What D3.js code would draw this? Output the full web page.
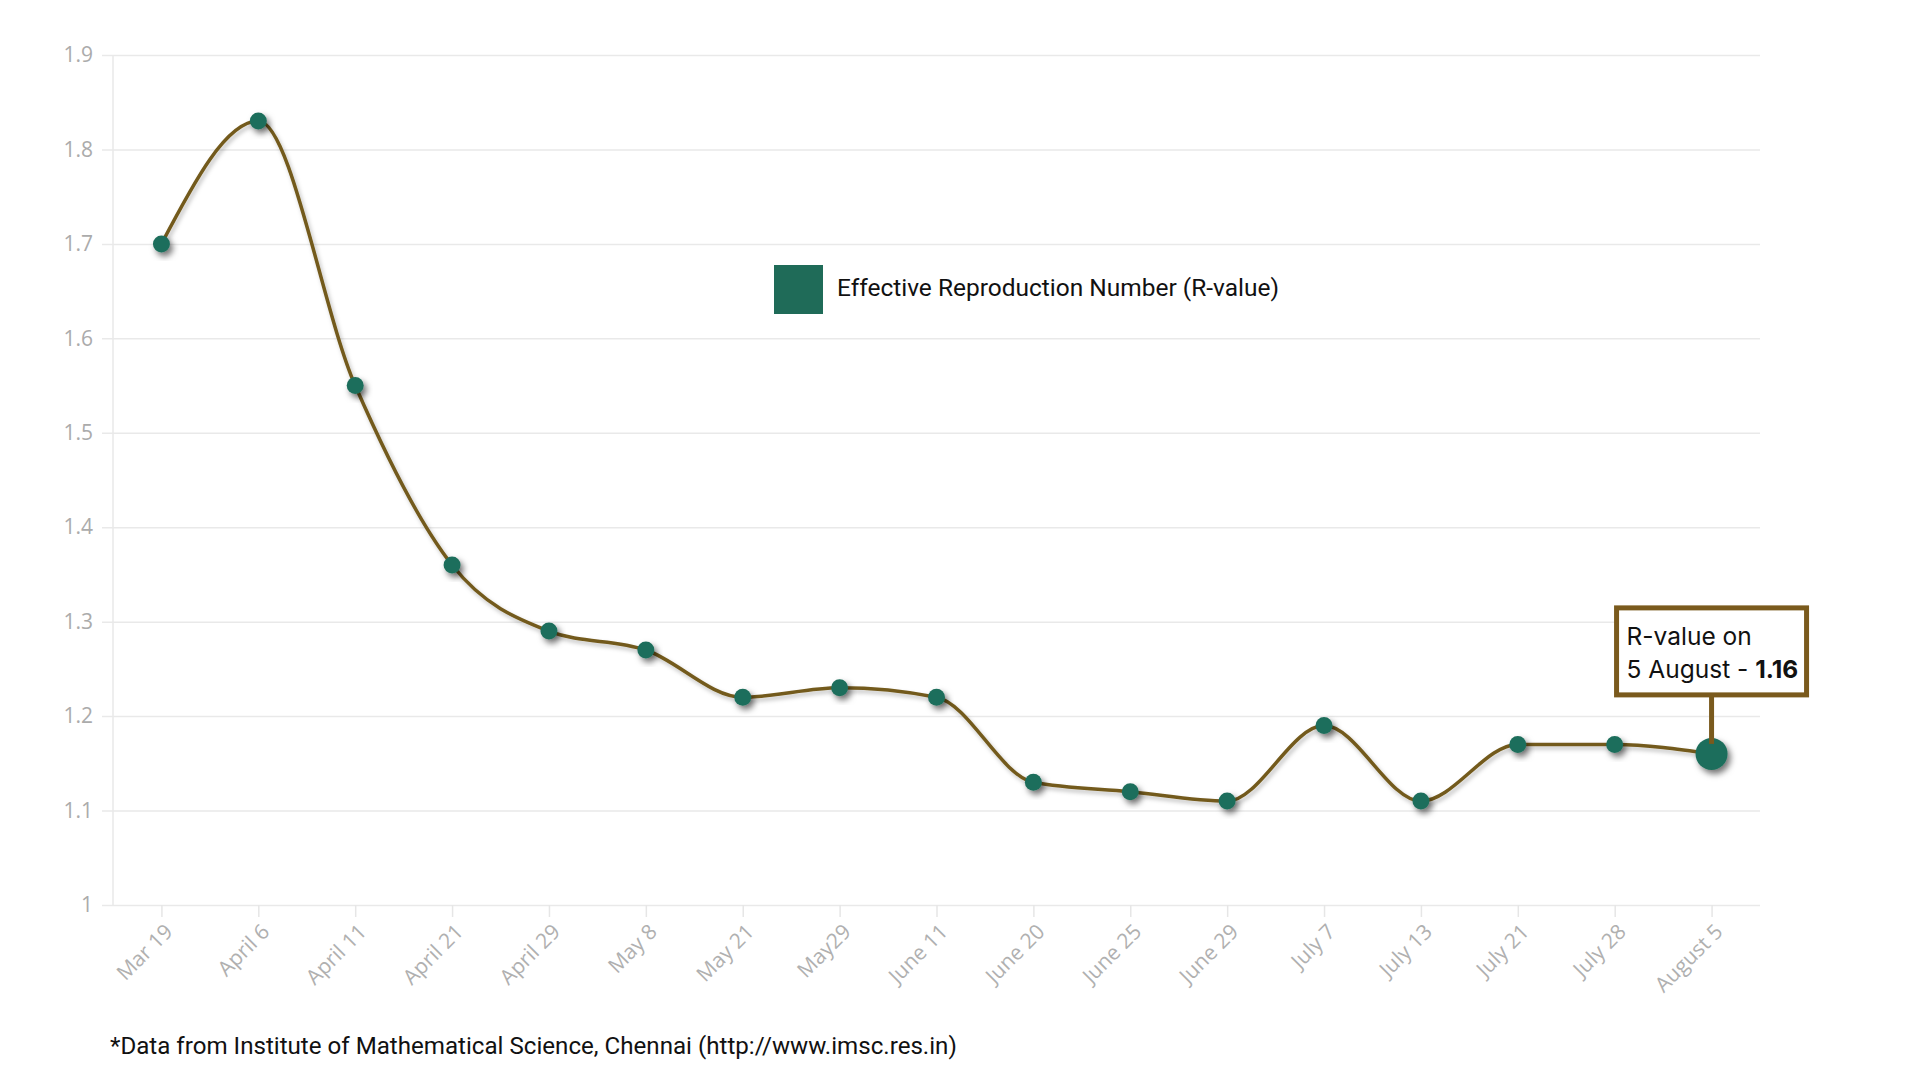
<!DOCTYPE html>
<html>
<head>
<meta charset="utf-8">
<script src="https://cdn.jsdelivr.net/npm/d3@7/dist/d3.min.js"></script>
<style>
  html, body { margin: 0; padding: 0; background: #ffffff; }
  svg { display: block; }
</style>
</head>
<body>
<svg id="chart" width="1920" height="1080"></svg>
<script>
// ---- data ----
const categories = ["Mar 19", "April 6", "April 11", "April 21", "April 29", "May 8", "May 21", "May29",
  "June 11", "June 20", "June 25", "June 29", "July 7", "July 13", "July 21", "July 28", "August 5"];
const rValues = [1.70, 1.83, 1.55, 1.36, 1.29, 1.27, 1.22, 1.23, 1.22, 1.13, 1.12, 1.11, 1.19, 1.11, 1.17, 1.17, 1.16];
const yTicks = [1, 1.1, 1.2, 1.3, 1.4, 1.5, 1.6, 1.7, 1.8, 1.9];
const legendLabel = "Effective Reproduction Number (R-value)";
const calloutLine1 = "R-value on";
const calloutLine2a = "5 August - ";
const calloutLine2b = "1.16";
const footnote = "*Data from Institute of Mathematical Science, Chennai (http://www.imsc.res.in)";

// ---- layout ----
const plot = { left: 113, right: 1760, top: 55, bottom: 905 };
const svg = d3.select("#chart");

const x = d3.scalePoint().domain(categories).range([plot.left, plot.right]).padding(0.5);
const y = d3.scaleLinear().domain([1, 1.9]).range([plot.bottom, plot.top]);

const defs = svg.append("defs");
const sh = defs.append("filter").attr("id", "shadow")
  .attr("x", "-50%").attr("y", "-50%").attr("width", "200%").attr("height", "200%");
sh.append("feDropShadow").attr("dx", 3).attr("dy", 4).attr("stdDeviation", 3)
  .attr("flood-color", "#000").attr("flood-opacity", 0.55);
const shl = defs.append("filter").attr("id", "lshadow")
  .attr("x", "-5%").attr("y", "-5%").attr("width", "110%").attr("height", "110%");
shl.append("feDropShadow").attr("dx", 2).attr("dy", 3).attr("stdDeviation", 2)
  .attr("flood-color", "#000").attr("flood-opacity", 0.25);

// gridlines + y axis labels
const gy = svg.append("g").attr("transform", `translate(${plot.right},0)`);
gy.call(d3.axisLeft(y).tickValues(yTicks).tickSize(plot.right - plot.left + 11).tickPadding(8)
  .tickFormat(d => d === 1 ? "1" : d3.format(".1f")(d)));
gy.select(".domain").remove();
gy.selectAll(".tick line").attr("stroke", "#e9e9e9").attr("stroke-width", 1.5);
gy.selectAll(".tick text").attr("fill", "#ababab").attr("font-family", "Open Sans, sans-serif")
  .attr("font-size", 21).attr("x", -(plot.right - plot.left) - 20).attr("text-anchor", "end");

// vertical axis line
svg.append("line").attr("x1", plot.left).attr("x2", plot.left)
  .attr("y1", plot.top).attr("y2", plot.bottom).attr("stroke", "#e9e9e9").attr("stroke-width", 1.5);

// x axis
const gx = svg.append("g").attr("transform", `translate(0,${plot.bottom})`);
gx.call(d3.axisBottom(x).tickSize(12).tickPadding(6));
gx.select(".domain").remove();
gx.selectAll(".tick line").attr("stroke", "#e6e6e6").attr("stroke-width", 1.5);
gx.selectAll(".tick text").attr("fill", "#b0b0b0").attr("font-family", "Open Sans, sans-serif")
  .attr("font-size", 21).attr("text-anchor", "end").attr("dy", 0)
  .attr("transform", "translate(12,28) rotate(-45)").attr("y", 0).attr("x", 0);

// line
const line = d3.line().x((d, i) => x(categories[i])).y(d => y(d)).curve(d3.curveMonotoneX);
svg.append("path").datum(rValues).attr("d", line).attr("fill", "none")
  .attr("stroke", "#735a1c").attr("stroke-width", 3.5).attr("filter", "url(#lshadow)");

// points
svg.append("g").selectAll("circle").data(rValues).join("circle")
  .attr("cx", (d, i) => x(categories[i])).attr("cy", d => y(d))
  .attr("r", (d, i) => i === rValues.length - 1 ? 16 : 8.5)
  .attr("fill", "#1f6e5b").attr("filter", "url(#shadow)");

// legend
function fit(sel, target) {
  const w = sel.node().getComputedTextLength();
  const fs = +sel.attr("font-size");
  sel.attr("font-size", (fs * target / w).toFixed(2));
}
const lg = svg.append("g");
lg.append("rect").attr("x", 774).attr("y", 265).attr("width", 49).attr("height", 49).attr("fill", "#1f6b58");
const lt = lg.append("text").attr("x", 837).attr("y", 296).attr("fill", "#111")
  .attr("font-family", "Roboto, sans-serif").attr("font-size", 24).text(legendLabel);
fit(lt, 442);

// callout
const lastI = rValues.length - 1;
const px = x(categories[lastI]), py = y(rValues[lastI]);
const boxW = 190, boxH = 87;
const bx = px - 95, by = py - 146;
svg.append("line").attr("x1", px).attr("x2", px).attr("y1", by + boxH).attr("y2", py - 10)
  .attr("stroke", "#7a5a1d").attr("stroke-width", 5);
svg.append("rect").attr("x", bx).attr("y", by).attr("width", boxW).attr("height", boxH)
  .attr("fill", "#fff").attr("stroke", "#7a5a1d").attr("stroke-width", 5);
svg.append("text").attr("x", bx + 10).attr("y", by + 37).attr("fill", "#111")
  .attr("font-family", "Inter, sans-serif").attr("font-size", 24.5).text(calloutLine1);
const c2 = svg.append("text").attr("x", bx + 10).attr("y", by + 70).attr("fill", "#111")
  .attr("font-family", "Inter, sans-serif").attr("font-size", 24.5);
c2.append("tspan").text(calloutLine2a);
c2.append("tspan").attr("font-weight", "bold").text(calloutLine2b);

// footnote
const ft = svg.append("text").attr("x", 110).attr("y", 1054).attr("fill", "#111")
  .attr("font-family", "Roboto, sans-serif").attr("font-size", 23).text(footnote);
fit(ft, 847);
</script>
</body>
</html>
